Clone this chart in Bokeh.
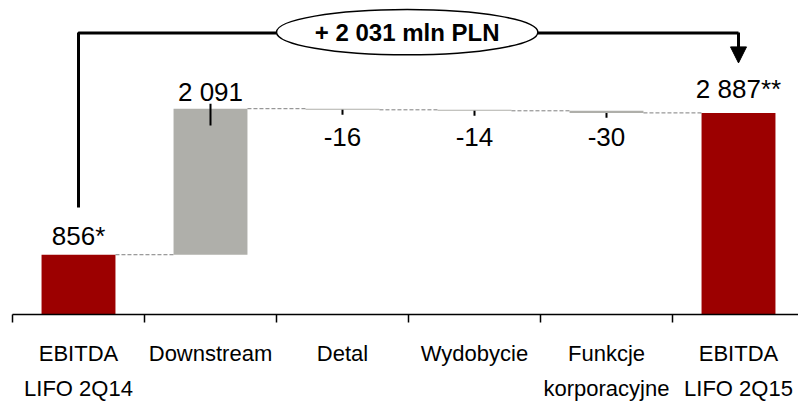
from bokeh.plotting import figure
from bokeh.models import Range1d, FixedTicker, Arrow, NormalHead, ColumnDataSource
from bokeh.core.properties import value
from bokeh.embed import file_html
from bokeh.resources import INLINE

# ---- data ----
categories = ["EBITDA\nLIFO 2Q14", "Downstream", "Detal", "Wydobycie",
              "Funkcje\nkorporacyjne", "EBITDA\nLIFO 2Q15"]
values = [856, 2091, -16, -14, -30, 2887]
is_total = [True, False, False, False, False, True]
value_labels = ["856*", "2 091", "-16", "-14", "-30", "2 887**"]
change_label = "+ 2 031 mln PLN"

# ---- style ----
RED = "#9C0000"
GRAY = "#AFAFAA"
FONT = "Liberation Sans"
FRAME_H = 317
Y_MAX = FRAME_H / 0.0705
BAR_W = 0.56

xs = [i + 0.5 for i in range(len(categories))]
bottoms, tops, running = [], [], []
acc = 0
for v, t in zip(values, is_total):
    if t:
        b, tp = 0, v
        acc = v
    else:
        b, tp = min(acc, acc + v), max(acc, acc + v)
        acc = acc + v
    bottoms.append(b)
    tops.append(tp)
    running.append(acc)
colors = [RED if t else GRAY for t in is_total]

p = figure(width=798, height=403, output_backend="svg", toolbar_location=None,
           x_range=Range1d(0, 786 / 132), y_range=Range1d(0, Y_MAX),
           min_border_left=12, min_border_right=0, min_border_top=0, min_border_bottom=0)
p.outline_line_color = None
p.grid.visible = False
p.yaxis.visible = False
p.background_fill_color = "white"
p.border_fill_color = "white"

src = ColumnDataSource(dict(x=xs, top=tops, bottom=bottoms, color=colors))
p.vbar(x="x", width=BAR_W, top="top", bottom="bottom", fill_color="color",
       line_color=None, source=src)

# dashed connectors between bars
p.segment(x0=[x + BAR_W / 2 for x in xs[:-1]], x1=[x - BAR_W / 2 for x in xs[1:]],
          y0=running[:-1], y1=running[:-1], line_color="#7F7F7F", line_width=1,
          line_dash="4 2")

# value labels
lab_y = [tp if v >= 0 else b for v, b, tp in zip(values, bottoms, tops)]
label_offsets = [-19, -17, 27, 26, 24, -24]
p.text(x=xs, y=lab_y, text=value_labels, y_offset=label_offsets,
       text_align="center", text_baseline="alphabetic",
       text_font=value(FONT), text_font_size="26px", text_color="black")

# leader ticks
upx = Y_MAX / FRAME_H
lx, ly0, ly1 = [], [], []
for i, (x, v, t) in enumerate(zip(xs, values, is_total)):
    if t:
        continue
    lx.append(x)
    if v >= 0:
        ly0.append(tops[i] + 5 * upx); ly1.append(tops[i] - 17 * upx)
    else:
        ly0.append(bottoms[i]); ly1.append(bottoms[i] - 5 * upx)
p.segment(x0=lx, x1=lx, y0=ly0, y1=ly1, line_color="black", line_width=2)

# change bracket
level = 4030
ex, ey, ew, eh = 2.99, 4043, 1.98, 650
p.line(x=[xs[0], xs[0], ex - ew / 2], y=[1532, level, level], line_color="black", line_width=3)
p.line(x=[ex + ew / 2, xs[-1]], y=[level, level], line_color="black", line_width=3)
p.add_layout(Arrow(end=NormalHead(size=16, fill_color="black", line_color="black"),
                   x_start=xs[-1], y_start=level + 10, x_end=xs[-1], y_end=3603,
                   line_color="black", line_width=3))
p.ellipse(x=[ex], y=[ey], width=ew, height=eh, fill_color="white",
          line_color="black", line_width=1.5)
p.text(x=[ex], y=[ey], text=[change_label], text_align="center",
       text_baseline="middle", text_font=value(FONT),
       text_font_style="bold", text_font_size="24px", text_color="black")

# x axis
ax = p.xaxis[0]
ax.ticker = FixedTicker(ticks=xs, minor_ticks=list(range(len(categories))))
ax.major_label_overrides = {x: c for x, c in zip(xs, categories)}
ax.major_tick_out = 0
ax.major_tick_in = 0
ax.minor_tick_out = 8
ax.minor_tick_in = 0
ax.minor_tick_line_color = "black"
ax.minor_tick_line_width = 1.5
ax.axis_line_color = "black"
ax.axis_line_width = 1.5
ax.major_label_standoff = 18
ax.major_label_text_font = FONT
ax.major_label_text_font_size = "22px"
ax.major_label_text_color = "black"
ax.major_label_text_line_height = 1.4

open("out.html", "w").write(file_html(p, INLINE))
